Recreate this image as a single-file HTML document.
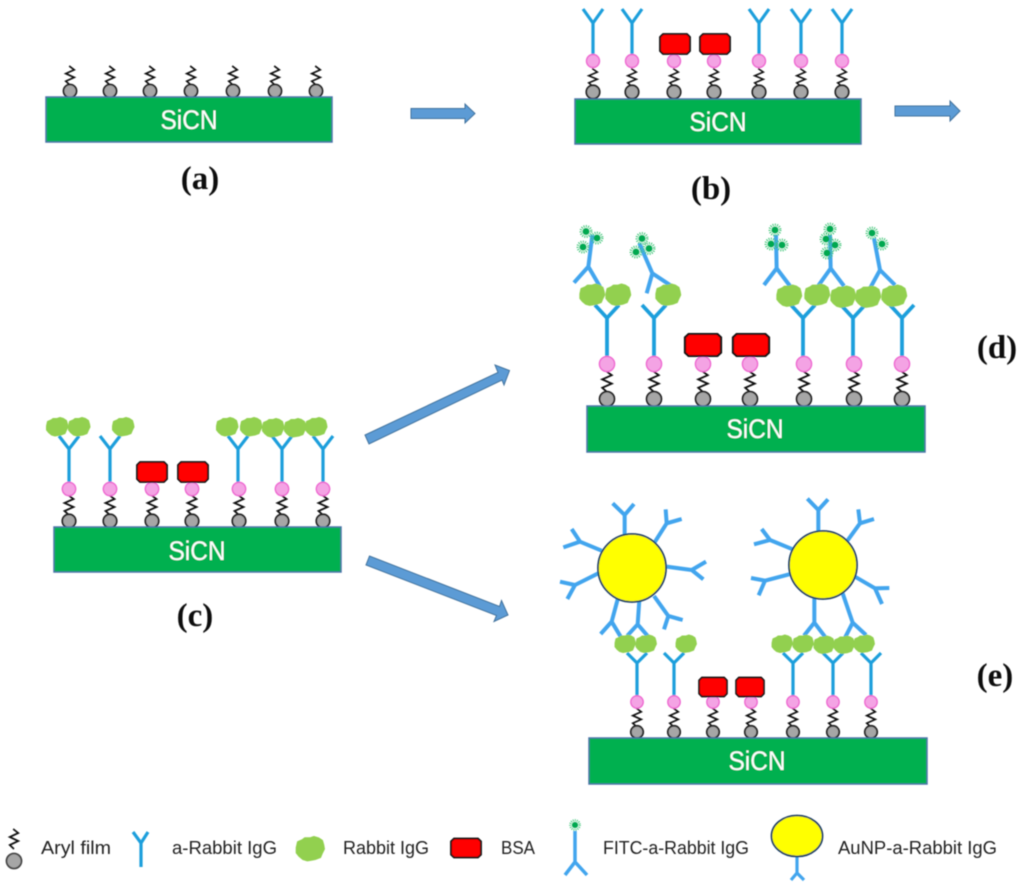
<!DOCTYPE html>
<html>
<head>
<meta charset="utf-8">
<style>
html,body{margin:0;padding:0;background:#fff}
svg{display:block}
.lab{font-family:"Liberation Serif",serif;font-weight:bold;font-size:33px;fill:#111;text-anchor:middle}
.sic{font-family:"Liberation Sans",sans-serif;font-size:27px;fill:#fff;text-anchor:middle}
.leg{font-family:"Liberation Sans",sans-serif;font-size:18px;fill:#222}
.sub{fill:#00b050;stroke:#4a75a8;stroke-width:1.5}
.arrow{fill:#5b9bd5;stroke:#41719c;stroke-width:1}
.ab{fill:none;stroke:#1f9fdc;stroke-width:3.2;stroke-linejoin:miter}
.ab2{fill:none;stroke:#42a5ee;stroke-width:12}
</style>
</head>
<body>
<svg width="1024" height="887" viewBox="0 0 1024 887" xmlns="http://www.w3.org/2000/svg">
<defs>
<filter id="soft" x="-5%" y="-5%" width="110%" height="110%"><feGaussianBlur stdDeviation="0.4"/></filter>
<path id="spr" d="M-1,0 L5,4 L-5,8 L5,12 L-5,16 L0,20" fill="none" stroke="#111" stroke-width="1.8"/>
<polygon id="bsa" points="-15,-7 -12,-10 12,-10 15,-7 15,7 12,10 -12,10 -15,7" fill="#ff0000" stroke="#111" stroke-width="1.8"/>
<path id="blob" d="M-10.500,-1 L-9.500,-5.500 L-6,-7 L-4,-8.500 L0,-8.500 L3,-9.500 L6.500,-8.500 L9.500,-6.500 L10.500,-3 L11,0 L9.500,3 L8,6.500 L4,8 L1,8.500 L-2,9 L-5.500,8 L-8.500,5.500 L-10.500,3 Z" fill="#92d050" stroke="#92d050" stroke-width="1" stroke-linejoin="round"/>
<g id="star">
<circle r="5.2" fill="none" stroke="#38c272" stroke-width="2.6" stroke-dasharray="0.9 1.3"/>
<circle r="3.4" fill="#00a850"/>
</g>
<g id="sa"><use href="#spr" transform="translate(0 66) scale(.85 .95)"/><circle cx="0" cy="91" r="6.5" fill="#a6a6a6" stroke="#222" stroke-width="1.8"/></g>
<g id="sb"><use href="#spr" transform="translate(0 68.500) scale(.85 .9)"/><circle cx="0" cy="92" r="6.7" fill="#a6a6a6" stroke="#222" stroke-width="1.8"/><circle cx="0" cy="61" r="6.5" fill="#f4a3e4" stroke="#ee66d0" stroke-width="1.4"/></g>
<g id="sc"><use href="#spr" transform="translate(0 495) scale(.9 1)"/><circle cx="0" cy="521" r="6.700" fill="#a6a6a6" stroke="#222" stroke-width="1.8"/><circle cx="0" cy="489" r="6.700" fill="#f4a3e4" stroke="#ee66d0" stroke-width="1.4"/></g>
<g id="sd"><use href="#spr" transform="translate(0 371) scale(.95 1.05)"/><circle cx="0" cy="399" r="7.400" fill="#a6a6a6" stroke="#222" stroke-width="1.8"/><circle cx="0" cy="364" r="7.600" fill="#f4a3e4" stroke="#ee66d0" stroke-width="1.4"/></g>
<g id="se"><use href="#spr" transform="translate(0 708) scale(.85 .95)"/><circle cx="0" cy="732" r="6.200" fill="#a6a6a6" stroke="#222" stroke-width="1.8"/><circle cx="0" cy="702" r="6.200" fill="#f4a3e4" stroke="#ee66d0" stroke-width="1.4"/></g>
<path id="yb" class="ab" d="M0,55V23M-10,9L0,23L10,9"/>
<path id="yc" class="ab" d="M0,483V449M-10,436L0,449L10,436"/>
<path id="yd" class="ab" d="M0,357V318M-12,305L0,318L12,305" style="stroke-width:3.800"/>
<path id="ye" class="ab" d="M0,697V663M-10,653L0,663L10,653"/>
</defs>

<rect width="1024" height="887" fill="#fff"/>
<g filter="url(#soft)">

<!-- Panel a -->
<use href="#sa" x="70"/><use href="#sa" x="110"/><use href="#sa" x="150"/><use href="#sa" x="191"/><use href="#sa" x="233"/><use href="#sa" x="275"/><use href="#sa" x="316"/>
<rect class="sub" x="46" y="97" width="286" height="45"/>
<text class="sic" x="189" y="129" textLength="57" lengthAdjust="spacingAndGlyphs">SiCN</text>
<text class="lab" x="200" y="189">(a)</text>

<polygon class="arrow" points="411,108.500 465,108.500 465,104 475,113.500 465,123 465,118.500 411,118.500"/>

<!-- Panel b -->
<use href="#yb" x="593"/><use href="#yb" x="632"/><use href="#yb" x="759"/><use href="#yb" x="801"/><use href="#yb" x="842"/>
<use href="#sb" x="593"/><use href="#sb" x="632"/><use href="#sb" x="674"/><use href="#sb" x="714"/><use href="#sb" x="759"/><use href="#sb" x="801"/><use href="#sb" x="842"/>
<use href="#bsa" transform="translate(675 44)"/><use href="#bsa" transform="translate(715 44)"/>
<rect class="sub" x="575" y="99" width="286" height="45"/>
<text class="sic" x="718" y="131" textLength="57" lengthAdjust="spacingAndGlyphs">SiCN</text>
<text class="lab" x="711" y="199">(b)</text>

<polygon class="arrow" points="895,106 950,106 950,101 960,111 950,121 950,116 895,116"/>

<!-- Panel c -->
<use href="#yc" x="69"/><use href="#yc" x="110"/><use href="#yc" x="238"/><use href="#yc" x="282"/><use href="#yc" x="323"/>
<use href="#sc" x="69"/><use href="#sc" x="110"/><use href="#sc" x="152"/><use href="#sc" x="192"/><use href="#sc" x="239"/><use href="#sc" x="282"/><use href="#sc" x="323"/>
<use href="#blob" transform="translate(57 427)"/><use href="#blob" transform="translate(79 427)"/><use href="#blob" transform="translate(123 427)"/><use href="#blob" transform="translate(227 427)"/><use href="#blob" transform="translate(251 427)"/><use href="#blob" transform="translate(273 428)"/><use href="#blob" transform="translate(295 428)"/><use href="#blob" transform="translate(316 427)"/>
<use href="#bsa" transform="translate(152 472)"/><use href="#bsa" transform="translate(193 472)"/>
<rect class="sub" x="54" y="527" width="287" height="45"/>
<text class="sic" x="197" y="560" textLength="57" lengthAdjust="spacingAndGlyphs">SiCN</text>
<text class="lab" x="195" y="626">(c)</text>

<!-- Diagonal arrows -->
<polygon class="arrow" points="365,435 369,444 502,380 504,385 509.500,370.500 495,365 498,372.500"/>
<polygon class="arrow" points="369.500,556 366,565 496.500,615.500 494,621.500 508,615 501.500,600.500 499.500,606.500"/>

<!-- Panel d -->
<use href="#yd" x="607"/><use href="#yd" x="654"/><use href="#yd" x="803"/><use href="#yd" x="853"/><use href="#yd" x="902"/>
<use href="#sd" x="607"/><use href="#sd" x="654"/><use href="#sd" x="703"/><use href="#sd" x="750"/><use href="#sd" x="804"/><use href="#sd" x="854"/><use href="#sd" x="902"/>
<g transform="translate(560 215) scale(.33333)">
<path class="ab2" d="M97,60L85,155M42,203L85,155L120,215"/>
<path class="ab2" d="M238,85L277,175M260,235L277,175L333,212"/>
<path class="ab2" d="M648,60L650,160M612,210L650,160L690,213"/>
<path class="ab2" d="M810,60L812,160M775,212L812,160L852,213"/>
<path class="ab2" d="M942,70L960,165M930,220L960,165L1005,210"/>
</g>
<use href="#star" transform="translate(586 231.500)"/><use href="#star" transform="translate(597 238)"/><use href="#star" transform="translate(583 247)"/>
<use href="#star" transform="translate(642 238.500)"/><use href="#star" transform="translate(649 248.500)"/><use href="#star" transform="translate(636 252)"/>
<use href="#star" transform="translate(775 230)"/><use href="#star" transform="translate(771 244)"/><use href="#star" transform="translate(782 245)"/>
<use href="#star" transform="translate(830 229)"/><use href="#star" transform="translate(826 239)"/><use href="#star" transform="translate(835 245)"/><use href="#star" transform="translate(827 253)"/>
<use href="#star" transform="translate(872 233)"/><use href="#star" transform="translate(882 244)"/>
<use href="#blob" transform="translate(592 295) scale(1.15 1.15)"/><use href="#blob" transform="translate(618 295) scale(1.15 1.15)"/><use href="#blob" transform="translate(668 295) scale(1.15 1.15)"/><use href="#blob" transform="translate(789 296) scale(1.15 1.15)"/><use href="#blob" transform="translate(817 295) scale(1.15 1.15)"/><use href="#blob" transform="translate(843 297) scale(1.15 1.15)"/><use href="#blob" transform="translate(868 297) scale(1.15 1.15)"/><use href="#blob" transform="translate(894 296) scale(1.15 1.15)"/>
<use href="#bsa" transform="translate(703 345) scale(1.2 1.1)"/><use href="#bsa" transform="translate(751 345) scale(1.2 1.1)"/>
<rect class="sub" x="587" y="406" width="338" height="46"/>
<text class="sic" x="755" y="438" textLength="57" lengthAdjust="spacingAndGlyphs">SiCN</text>
<text class="lab" x="997" y="358">(d)</text>

<!-- Panel e -->
<g transform="translate(550 490) scale(.33333)">
<path class="ab2" d="M224,140V75M188,40L224,75L252,42"/>
<path class="ab2" d="M312,160L350,100M347,58L350,100L395,87"/>
<path class="ab2" d="M155,182L90,155M65,117L90,155L40,172"/>
<path class="ab2" d="M145,250L75,285M30,275L75,285L52,327"/>
<path class="ab2" d="M350,230L425,240M468,215L425,240L460,268"/>
<path class="ab2" d="M312,318L355,378M342,418L355,378L398,390"/>
<path class="ab2" d="M203,328L185,395M152,432L185,395L212,440"/>
<path class="ab2" d="M268,330L263,403M232,437L263,403L295,440"/>
<path class="ab2" d="M805,130V60M772,26L805,60L834,28"/>
<path class="ab2" d="M890,155L930,100M925,58L930,100L972,87"/>
<path class="ab2" d="M728,178L660,150M635,117L660,150L612,163"/>
<path class="ab2" d="M718,253L645,272M603,264L645,272L626,316"/>
<path class="ab2" d="M915,260L975,295M1018,294L975,295L996,342"/>
<path class="ab2" d="M793,322V398M762,437L793,398L825,440"/>
<path class="ab2" d="M878,310L908,398M885,443L908,398L948,435"/>
</g>
<circle cx="632" cy="568" r="34" fill="#ffff00" stroke="#1f3f66" stroke-width="1.8"/>
<circle cx="823" cy="565" r="34" fill="#ffff00" stroke="#1f3f66" stroke-width="1.8"/>
<use href="#ye" x="637"/><use href="#ye" x="674"/><use href="#ye" x="793"/><use href="#ye" x="833"/><use href="#ye" x="871"/>
<use href="#se" x="637"/><use href="#se" x="674"/><use href="#se" x="713"/><use href="#se" x="751"/><use href="#se" x="793"/><use href="#se" x="833"/><use href="#se" x="871"/>
<use href="#blob" transform="translate(625 644) scale(.95)"/><use href="#blob" transform="translate(646 644) scale(.95)"/><use href="#blob" transform="translate(686 644) scale(.95)"/><use href="#blob" transform="translate(782 644) scale(.95)"/><use href="#blob" transform="translate(803 644) scale(.95)"/><use href="#blob" transform="translate(824 645) scale(.95)"/><use href="#blob" transform="translate(844 645) scale(.95)"/><use href="#blob" transform="translate(864 644) scale(.95)"/>
<use href="#bsa" transform="translate(713 687) scale(.93 .95)"/><use href="#bsa" transform="translate(750 687) scale(.93 .95)"/>
<rect class="sub" x="589" y="738" width="338" height="46"/>
<text class="sic" x="757" y="770" textLength="57" lengthAdjust="spacingAndGlyphs">SiCN</text>
<text class="lab" x="995" y="686">(e)</text>

<!-- Legend -->
<use href="#spr" transform="translate(14 829) scale(.85 1)"/>
<circle cx="14" cy="861" r="7.500" fill="#a6a6a6" stroke="#444" stroke-width="1.8"/>
<text class="leg" x="41" y="854" textLength="70" lengthAdjust="spacingAndGlyphs">Aryl film</text>
<path class="ab" d="M141,867V843M133,832L141,843L148,832"/>
<text class="leg" x="172" y="854" textLength="105" lengthAdjust="spacingAndGlyphs">a-Rabbit IgG</text>
<use href="#blob" transform="translate(310 849) scale(1.3 1.3)"/>
<text class="leg" x="343" y="854" textLength="86" lengthAdjust="spacingAndGlyphs">Rabbit IgG</text>
<use href="#bsa" transform="translate(466 848) scale(1 .95)"/>
<text class="leg" x="501" y="854" textLength="34" lengthAdjust="spacingAndGlyphs">BSA</text>
<use href="#star" transform="translate(575 825) scale(.9)"/>
<path class="ab" style="stroke:#42a5ee;stroke-width:3.500" d="M575,831V862M565,875L575,862L587,875"/>
<text class="leg" x="603" y="854" textLength="146" lengthAdjust="spacingAndGlyphs">FITC-a-Rabbit IgG</text>
<path class="ab" style="stroke:#42a5ee" d="M797,857V873M791,880L797,873L804,880"/>
<ellipse cx="797" cy="836" rx="25.500" ry="20.500" fill="#ffff00" stroke="#1f3f66" stroke-width="1.8"/>
<text class="leg" x="838" y="854" textLength="159" lengthAdjust="spacingAndGlyphs">AuNP-a-Rabbit IgG</text>
</g>
</svg>
</body>
</html>
